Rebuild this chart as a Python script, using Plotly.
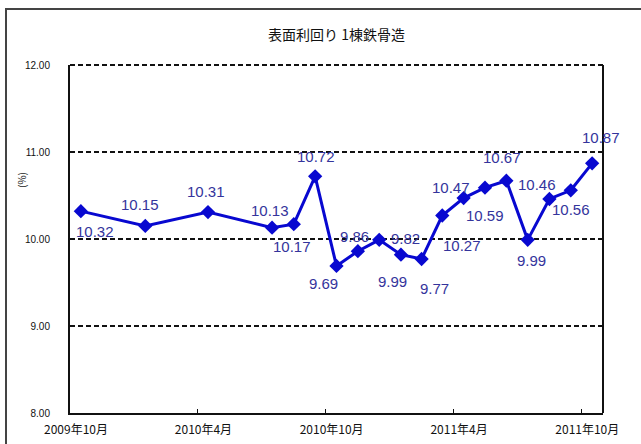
import plotly.graph_objects as go
import pandas as pd

# ---- data ----
months = ["2009-10", "2010-01", "2010-04", "2010-07", "2010-08", "2010-09", "2010-10",
          "2010-11", "2010-12", "2011-01", "2011-02", "2011-03", "2011-04", "2011-05",
          "2011-06", "2011-07", "2011-08", "2011-09", "2011-10"]
values = [10.32, 10.15, 10.31, 10.13, 10.17, 10.72, 9.69, 9.86, 9.99, 9.82, 9.77,
          10.27, 10.47, 10.59, 10.67, 9.99, 10.46, 10.56, 10.87]
tick_months = ["2009-10", "2010-04", "2010-10", "2011-04", "2011-10"]
tick_labels = ["2009年10月", "2010年4月", "2010年10月", "2011年4月", "2011年10月"]
y_ticks = [8, 9, 10, 11, 12]
title_text = "表面利回り 1棟鉄骨造"
y_title = "(%)"

# label offsets in pixels (style)
label_dx = [14, -5, -2, -2, -2, 1, -13, -3, 13, 5, 13, 20, -13, 0, -4, 4, -12, 0, 9]
label_dy = [20, -21, -21, -17, 22, -20, 18, -15, 42, -16, 29, 30, -11, 28, -23, 21, -14, 19, -26]

start = pd.to_datetime([m + "-01" for m in months])
end = start + pd.offsets.MonthBegin(1)
mid = start + (end - start) / 2

W, H = 641, 444
PL, PR, PT, PB = 70, 603, 65, 413          # plot area in window pixels
L, T = PL, PT
R, B = W - PR, H - PB
pw, ph = PR - PL, PB - PT


def px(xw):
    return (xw - PL) / pw


def py(yw):
    return (PB - yw) / ph


NUM_FONT = "Liberation Sans, Arial, sans-serif"
JP_FONT = "Noto Sans CJK JP, sans-serif"
LABEL_COLOR = "#34349c"
LINE_COLOR = "#0808d0"

fig = go.Figure()
fig.add_trace(go.Scatter(
    x=mid, y=values, mode="lines+markers",
    line=dict(color=LINE_COLOR, width=3),
    marker=dict(symbol="diamond", size=11, color=LINE_COLOR),
    hoverinfo="skip", showlegend=False,
))

annotations = []
for xm, v, dx, dy in zip(mid, values, label_dx, label_dy):
    annotations.append(dict(
        x=xm, y=v, xref="x", yref="y", text=f"{v:.2f}", showarrow=False,
        xanchor="center", yanchor="middle",
        xshift=dx, yshift=-dy, font=dict(family=NUM_FONT, size=15, color=LABEL_COLOR),
    ))

annotations.append(dict(
    x=px(21), y=py(180), xref="paper", yref="paper",
    text=y_title, textangle=-90, showarrow=False, xanchor="center", yanchor="middle",
    font=dict(family=JP_FONT, size=10, color="#222"),
))
annotations.append(dict(
    x=px(336), y=py(34), xref="paper", yref="paper",
    text=title_text, showarrow=False, xanchor="center", yanchor="middle",
    font=dict(family=JP_FONT, size=14, color="#111"),
))

shapes = [
    # right frame line
    dict(type="line", xref="paper", yref="paper", x0=1, x1=1, y0=0, y1=1,
         line=dict(color="#111", width=2)),
    # top dashed gridline (at the top of the value range)
    dict(type="line", xref="paper", yref="paper", x0=0, x1=1, y0=1, y1=1,
         line=dict(color="#111", width=2, dash="5px,3px")),
    # outer chart border
    dict(type="rect", xref="paper", yref="paper",
         x0=px(6), x1=px(660), y0=py(470), y1=py(9),
         line=dict(color="#444", width=2)),
]

fig.update_layout(
    width=W, height=H,
    margin=dict(l=L, r=R, t=T, b=B, autoexpand=False),
    paper_bgcolor="white", plot_bgcolor="white",
    annotations=annotations, shapes=shapes,
    xaxis=dict(
        type="date",
        range=[start[0], pd.Timestamp("2011-11-01")],
        tickvals=pd.to_datetime([m + "-01" for m in tick_months]),
        ticktext=tick_labels,
        ticks="inside", ticklen=4, tickwidth=1, tickcolor="#111",
        showline=True, linecolor="#111", linewidth=2,
        showgrid=False, zeroline=False,
        tickfont=dict(family=JP_FONT, size=12, color="#111"),
        ticklabelshift=6, ticklabelstandoff=5,
    ),
    yaxis=dict(
        range=[y_ticks[0], y_ticks[-1]], tickvals=y_ticks, tickformat=".2f",
        ticks="inside", ticklen=5, tickwidth=1, tickcolor="#111",
        showline=True, linecolor="#111", linewidth=2,
        showgrid=True, gridcolor="#111", gridwidth=2, griddash="5px,3px",
        zeroline=False,
        tickfont=dict(family=NUM_FONT, size=10, color="#111"),
        ticklabelstandoff=16,
    ),
)

fig.write_html("out.html", config={"displayModeBar": False},
               post_script="document.body.style.margin='0px';")
